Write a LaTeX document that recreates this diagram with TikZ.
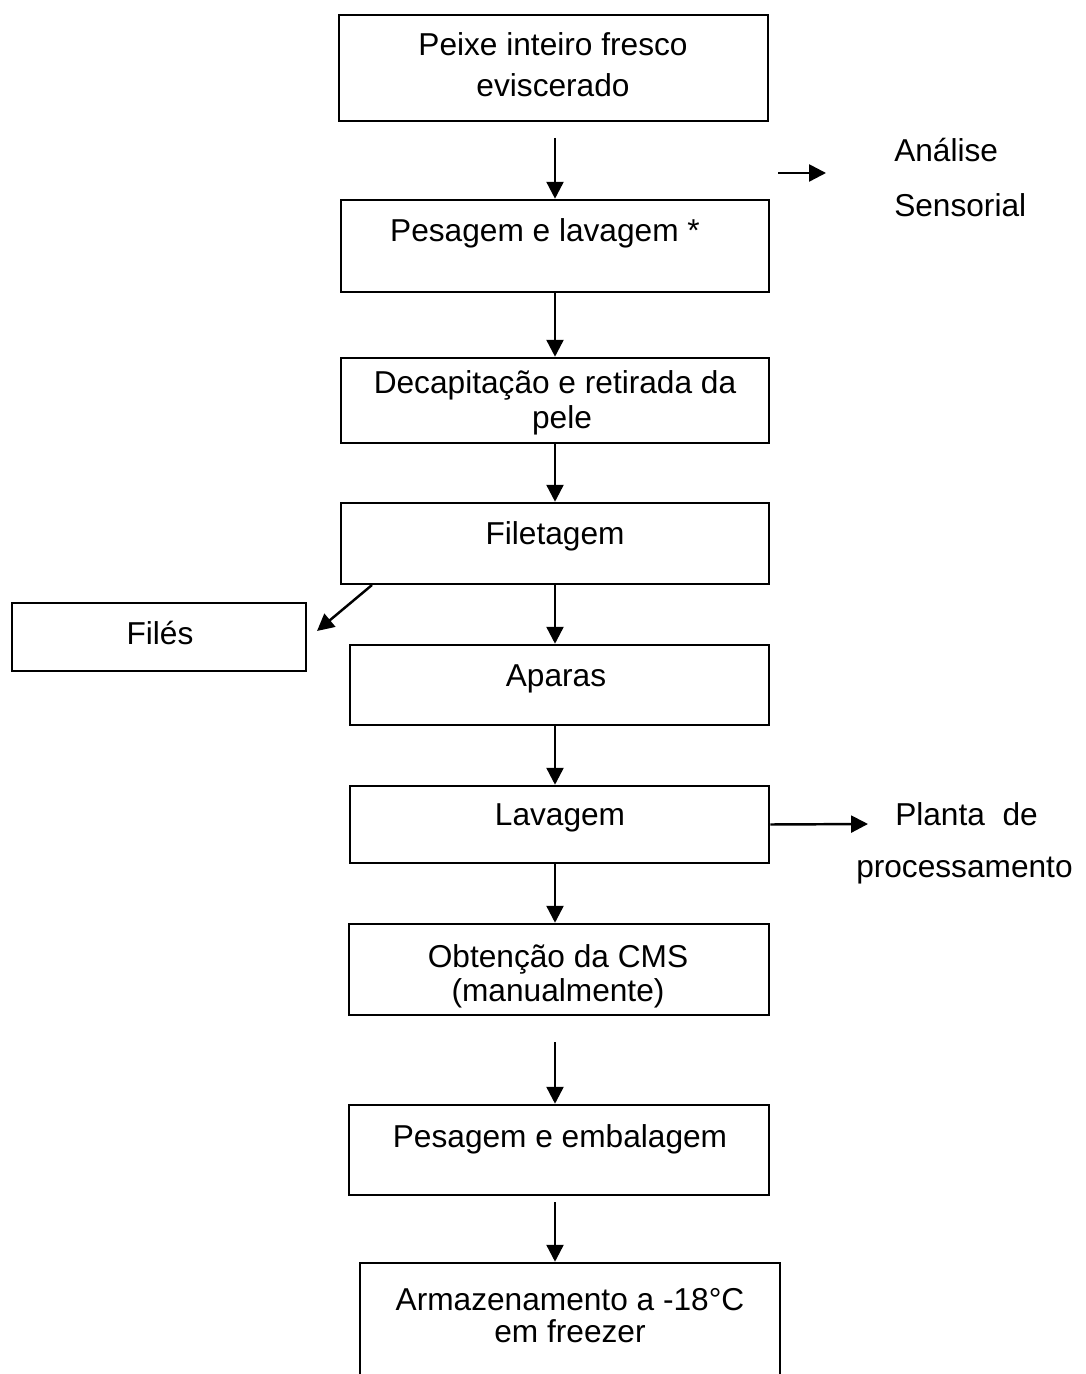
\documentclass[tikz,border=0pt]{standalone}
\usepackage{fontspec}
\setmainfont{Liberation Sans}
\usetikzlibrary{arrows.meta}
\tikzset{
	block/.style  = {draw, rectangle, line width=0.7pt, inner sep=0pt},
	txt/.style    = {inner sep=0pt, anchor=base, font=\fontsize{9pt}{11pt}\selectfont},
	side/.style   = {txt, anchor=base west},
	hidden/.style = {coordinate},
}
\begin{document}
\begin{tikzpicture}[x=0.01cm, y=-0.01cm, >={Triangle[length=4.8pt, width=4.8pt]}, line width=0.7pt]
	\path[use as bounding box, clip] (0,0) rectangle (1086,1374);

	% Draw the process boxes
	\path
	node[block, minimum width=4.29cm, minimum height=1.06cm] (peixe)    at (553.5,68)   {}
	node[block, minimum width=4.28cm, minimum height=0.92cm] (pesagem)  at (555,246)    {}
	node[block, minimum width=4.28cm, minimum height=0.85cm] (decap)    at (555,400.5)  {}
	node[block, minimum width=4.28cm, minimum height=0.81cm] (filet)    at (555,543.5)  {}
	node[block, minimum width=2.94cm, minimum height=0.68cm] (files)    at (159,637)    {}
	node[block, minimum width=4.19cm, minimum height=0.80cm] (aparas)   at (559.5,685)  {}
	node[block, minimum width=4.19cm, minimum height=0.77cm] (lavagem)  at (559.5,824.5) {}
	node[block, minimum width=4.20cm, minimum height=0.91cm] (obtencao) at (559,969.5)  {}
	node[block, minimum width=4.20cm, minimum height=0.90cm] (pesemb)   at (559,1150)   {}
	node[block, minimum width=4.20cm, minimum height=1.37cm] (armaz)    at (570,1331.5) {};

	% Texts
	\node[txt] (tpeixe1)   at (553,56)   {Peixe inteiro fresco};
	\node[txt] (tpeixe2)   at (553,97)   {eviscerado};
	\node[txt] (tpesagem)  at (545,242)  {Pesagem e lavagem *};
	\node[txt] (tdecap1)   at (555,394)  {Decapitação e retirada da};
	\node[txt] (tdecap2)   at (562,429)  {pele};
	\node[txt] (tfilet)    at (555,545)  {Filetagem};
	\node[txt] (tfiles)    at (160,645)  {Filés};
	\node[txt] (taparas)   at (556,686)  {Aparas};
	\node[txt] (tlavagem)  at (560,825)  {Lavagem};
	\node[txt] (tobt1)     at (558,967)  {Obtenção da CMS};
	\node[txt] (tobt2)     at (558,1001) {(manualmente)};
	\node[txt] (tpesemb)   at (560,1147) {Pesagem e embalagem};
	\node[txt] (tarmaz1)   at (570,1310) {Armazenamento a -18°C};
	\node[txt] (tarmaz2)   at (570,1342) {em freezer};
	\node[side] (analise)  at (893,162)  {Análise};
	\node[side] (sensor)   at (893,217)  {Sensorial};
	\node[side] (planta)   at (894,825)  {Planta~ de};
	\node[side] (process)  at (855,877)  {processamento};

	% Free ends
	\coordinate (start)   at (555,138);
	\coordinate (cut)     at (372,585);
	\coordinate (tofiles) at (317,631);
	\coordinate (sensl)   at (778,173);
	\coordinate (sensr)   at (826,173);
	\coordinate (plantr)  at (868,824);
	\coordinate (obtout)  at (555,1042);
	\coordinate (embout)  at (555,1202);

	% Connect everything together
	\draw[->] (start) -- (pesagem.north);
	\draw[->] (pesagem.south) -- (decap.north);
	\draw[->] (decap.south) -- (filet.north);
	\draw[->] (filet.south) -- (filet.south |- aparas.north);
	\draw[->] (aparas.south -| filet.south) -- (lavagem.north -| filet.south);
	\draw[->] (lavagem.south -| filet.south) -- (obtencao.north -| filet.south);
	\draw[->] (obtout) -- (obtout |- pesemb.north);
	\draw[->] (embout) -- (embout |- armaz.north);
	\draw[->] (cut) -- (tofiles);
	\draw[->] (sensl) -- (sensr);
	\draw[->] (lavagem.east) -- (plantr);
\end{tikzpicture}
\end{document}
